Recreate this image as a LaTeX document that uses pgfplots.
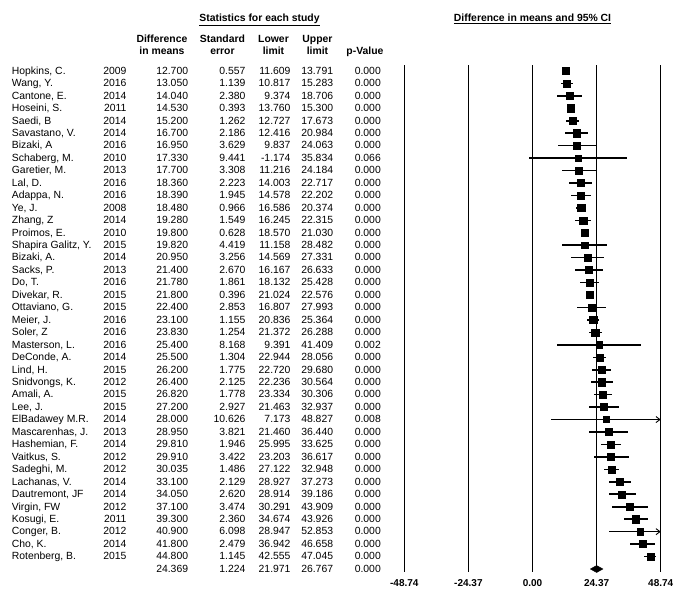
\documentclass[border=0pt]{standalone}
\usepackage{fontspec}
\setmainfont{Liberation Sans}
\usepackage{pgfplots}
\usepackage{pgfplotstable}
\pgfplotsset{compat=1.18}
\usetikzlibrary{arrows.meta}
\newcommand\tabfont{\fontsize{10.4}{12}\selectfont}

\pgfplotstableread[col sep=semicolon]{
row;name;year;diff;se;lo;hi;p;ms
1;Hopkins, C.;2009;12.700;0.557;11.609;13.791;0.000;3.6
2;Wang, Y.;2016;13.050;1.139;10.817;15.283;0.000;3.6
3;Cantone, E.;2014;14.040;2.380;9.374;18.706;0.000;3.55
4;Hoseini, S.;2011;14.530;0.393;13.760;15.300;0.000;3.6
5;Saedi, B;2014;15.200;1.262;12.727;17.673;0.000;3.6
6;Savastano, V.;2014;16.700;2.186;12.416;20.984;0.000;3.55
7;Bizaki, A;2016;16.950;3.629;9.837;24.063;0.000;3.5
8;Schaberg, M.;2010;17.330;9.441;-1.174;35.834;0.066;3.1
9;Garetier, M.;2013;17.700;3.308;11.216;24.184;0.000;3.5
10;Lal, D.;2016;18.360;2.223;14.003;22.717;0.000;3.55
11;Adappa, N.;2016;18.390;1.945;14.578;22.202;0.000;3.6
12;Ye, J.;2008;18.480;0.966;16.586;20.374;0.000;3.6
13;Zhang, Z;2014;19.280;1.549;16.245;22.315;0.000;3.6
14;Proimos, E.;2010;19.800;0.628;18.570;21.030;0.000;3.6
15;Shapira Galitz, Y.;2015;19.820;4.419;11.158;28.482;0.000;3.45
16;Bizaki, A.;2014;20.950;3.256;14.569;27.331;0.000;3.5
17;Sacks, P.;2013;21.400;2.670;16.167;26.633;0.000;3.55
18;Do, T.;2016;21.780;1.861;18.132;25.428;0.000;3.6
19;Divekar, R.;2015;21.800;0.396;21.024;22.576;0.000;3.6
20;Ottaviano, G.;2015;22.400;2.853;16.807;27.993;0.000;3.5
21;Meier, J.;2016;23.100;1.155;20.836;25.364;0.000;3.6
22;Soler, Z;2016;23.830;1.254;21.372;26.288;0.000;3.6
23;Masterson, L.;2016;25.400;8.168;9.391;41.409;0.002;3.2
24;DeConde, A.;2014;25.500;1.304;22.944;28.056;0.000;3.6
25;Lind, H.;2015;26.200;1.775;22.720;29.680;0.000;3.6
26;Snidvongs, K.;2012;26.400;2.125;22.236;30.564;0.000;3.55
27;Amali, A.;2015;26.820;1.778;23.334;30.306;0.000;3.6
28;Lee, J.;2015;27.200;2.927;21.463;32.937;0.000;3.5
29;ElBadawey M.R.;2014;28.000;10.626;7.173;48.827;0.008;3.05
30;Mascarenhas, J.;2013;28.950;3.821;21.460;36.440;0.000;3.5
31;Hashemian, F.;2014;29.810;1.946;25.995;33.625;0.000;3.6
32;Vaitkus, S.;2012;29.910;3.422;23.203;36.617;0.000;3.5
33;Sadeghi, M.;2012;30.035;1.486;27.122;32.948;0.000;3.6
34;Lachanas, V.;2014;33.100;2.129;28.927;37.273;0.000;3.55
35;Dautremont, JF;2014;34.050;2.620;28.914;39.186;0.000;3.55
36;Virgin, FW;2012;37.100;3.474;30.291;43.909;0.000;3.5
37;Kosugi, E.;2011;39.300;2.360;34.674;43.926;0.000;3.55
38;Conger, B.;2012;40.900;6.098;28.947;52.853;0.000;3.35
39;Cho, K.;2014;41.800;2.479;36.942;46.658;0.000;3.55
40;Rotenberg, B.;2015;44.800;1.145;42.555;47.045;0.000;3.6
}\studies

\begin{document}
\begin{tikzpicture}
\begin{axis}[
  scale only axis, width=256.4pt, height=507pt,
  xmin=-48.74, xmax=48.74, ymin=0.53, ymax=41.25, y dir=reverse,
  axis line style={draw=none}, ytick=\empty,
  xtick={-48.74,-24.37,0,24.37,48.74},
  xticklabels={\textbf{-48.74},\textbf{-24.37},\textbf{0.00},\textbf{24.37},\textbf{48.74}},
  xticklabel style={font=\fontsize{10}{12}\selectfont, yshift=-4pt},
  major tick length=0pt,
  xmajorgrids, grid style={black, line width=1.1pt},
  clip=false,
  tabW/.style={every node near coord/.style={anchor=west, inner sep=0pt, text height=1.5ex, text depth=.25ex, font=\tabfont, black}},
  tabE/.style={every node near coord/.style={anchor=east, inner sep=0pt, text height=1.5ex, text depth=.25ex, font=\tabfont, black}},
]
% bounding box of the whole figure (685 x 598)
\path (axis cs:-202.43,-4.695) rectangle (axis cs:57.97,43.34);

% text table
\addplot[only marks, mark=none, nodes near coords, point meta=explicit symbolic, tabW] table[x expr=-197.98, y=row, meta=name] \studies;
\addplot[only marks, mark=none, nodes near coords, point meta=explicit symbolic, tabE] table[x expr=-154.27, y=row, meta=year] \studies;
\addplot[only marks, mark=none, nodes near coords, point meta=explicit symbolic, tabE] table[x expr=-130.85, y=row, meta=diff] \studies;
\addplot[only marks, mark=none, nodes near coords, point meta=explicit symbolic, tabE] table[x expr=-109.03, y=row, meta=se] \studies;
\addplot[only marks, mark=none, nodes near coords, point meta=explicit symbolic, tabE] table[x expr=-91.92, y=row, meta=lo] \studies;
\addplot[only marks, mark=none, nodes near coords, point meta=explicit symbolic, tabE] table[x expr=-75.73, y=row, meta=hi] \studies;
\addplot[only marks, mark=none, nodes near coords, point meta=explicit symbolic, tabE] table[x expr=-57.59, y=row, meta=p] \studies;

% summary row text
\tikzset{sumE/.style={anchor=east, inner sep=0pt, text height=1.5ex, text depth=.25ex, font=\tabfont}}
\node[sumE] at (axis cs:-130.85,41) {24.369};
\node[sumE] at (axis cs:-109.03,41) {1.224};
\node[sumE] at (axis cs:-91.92,41) {21.971};
\node[sumE] at (axis cs:-75.73,41) {26.767};
\node[sumE] at (axis cs:-57.59,41) {0.000};

% headers
\tikzset{hdr/.style={anchor=center, inner sep=0pt, text height=1.5ex, text depth=.25ex, font=\tabfont\bfseries}}
\node[hdr] at (axis cs:-103.78,-3.225) {\underline{Statistics for each study}};
\node[hdr] at (axis cs:0,-3.225) {\underline{Difference in means and 95\% CI}};
\node[hdr] at (axis cs:-140.85,-1.538) {Difference};
\node[hdr] at (axis cs:-140.85,-0.598) {in means};
\node[hdr] at (axis cs:-117.85,-1.538) {Standard};
\node[hdr] at (axis cs:-117.85,-0.598) {error};
\node[hdr] at (axis cs:-98.46,-1.538) {Lower};
\node[hdr] at (axis cs:-98.46,-0.598) {limit};
\node[hdr] at (axis cs:-81.73,-1.538) {Upper};
\node[hdr] at (axis cs:-81.73,-0.598) {limit};
\node[hdr] at (axis cs:-63.68,-0.598) {p-Value};

% confidence intervals
\addplot[only marks, mark=none, black,
  error bars/.cd, x dir=both, x explicit, error mark=none,
  error bar style={line width=1.6pt, black}]
  table[x=diff, y=row,
    x error plus expr={min(\thisrow{hi},47.5)-\thisrow{diff}},
    x error minus expr={\thisrow{diff}-\thisrow{lo}}] \studies;
% truncated intervals with arrows
\addplot[black, line width=0.9pt, -{Straight Barb[length=4pt,width=6pt]}] coordinates {(40,29) (48.74,29)};
\addplot[black, line width=0.9pt, -{Straight Barb[length=4pt,width=6pt]}] coordinates {(46,38) (48.74,38)};

% point estimates
\addplot[scatter, only marks, mark=square*,
  scatter/use mapped color={draw=black, fill=black},
  visualization depends on={\thisrow{ms} \as \msz},
  scatter/@pre marker code/.append style={/tikz/mark size=\msz pt}]
  table[x=diff, y=row] \studies;

% summary diamond
\addplot[black, fill=black] coordinates {(21.971,41) (24.369,40.72) (26.767,41) (24.369,41.28) (21.971,41)};
\end{axis}
\end{tikzpicture}
\end{document}
